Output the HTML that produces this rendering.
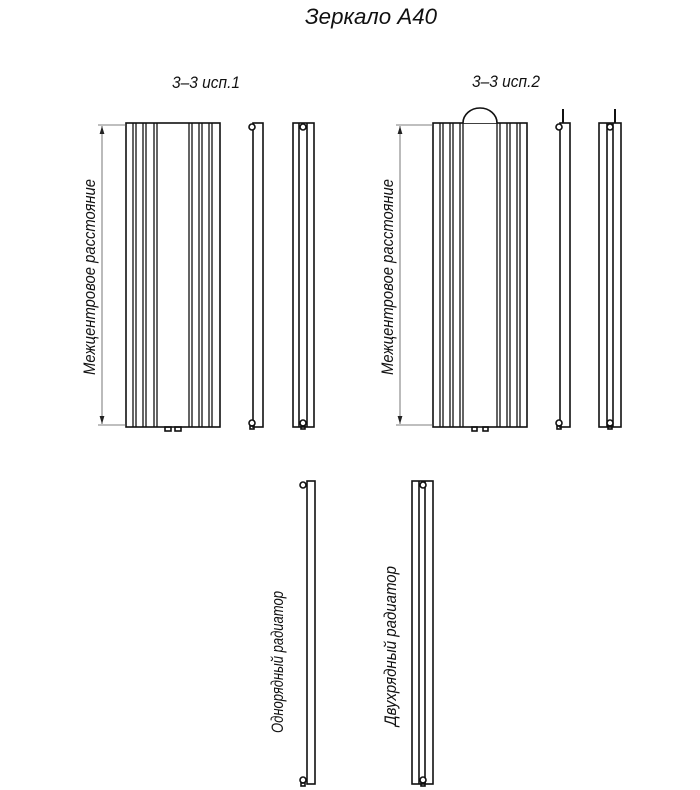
<!DOCTYPE html>
<html><head><meta charset="utf-8"><style>
html,body{margin:0;padding:0;background:#fff;}
svg{display:block;}
text{font-family:"Liberation Sans",sans-serif;font-style:italic;fill:#111;}
</style></head><body>
<svg width="700" height="790" viewBox="0 0 700 790" xmlns="http://www.w3.org/2000/svg">
<defs>
<marker id="ar" viewBox="0 0 10 10" refX="10" refY="5" markerWidth="8" markerHeight="10" orient="auto" markerUnits="userSpaceOnUse"><path d="M0,2 L10,5 L0,8 z" fill="#222"/></marker>
</defs>
<text x="305" y="24" font-size="22" textLength="132" lengthAdjust="spacingAndGlyphs">Зеркало А40</text>
<text x="172" y="88" font-size="17" textLength="68" lengthAdjust="spacingAndGlyphs">3–3 исп.1</text>
<text x="472" y="87" font-size="17" textLength="68" lengthAdjust="spacingAndGlyphs">3–3 исп.2</text>

<g stroke="#111" fill="none" stroke-width="1.6">
<rect x="126" y="123" width="94" height="304"/>
<g stroke-width="1.3">
<line x1="133" y1="123" x2="133" y2="427"/><line x1="136" y1="123" x2="136" y2="427"/>
<line x1="143" y1="123" x2="143" y2="427"/><line x1="146" y1="123" x2="146" y2="427"/>
<line x1="154" y1="123" x2="154" y2="427"/><line x1="157" y1="123" x2="157" y2="427"/>
<line x1="189" y1="123" x2="189" y2="427"/><line x1="192" y1="123" x2="192" y2="427"/>
<line x1="199" y1="123" x2="199" y2="427"/><line x1="202" y1="123" x2="202" y2="427"/>
<line x1="209" y1="123" x2="209" y2="427"/><line x1="212" y1="123" x2="212" y2="427"/>
</g>
<rect x="165" y="427" width="6" height="4"/><rect x="175" y="427" width="6" height="4"/>
<rect x="253" y="123" width="10" height="304"/>
<circle cx="252" cy="127" r="3" fill="#fff"/><circle cx="252" cy="423" r="3" fill="#fff"/>
<rect x="250" y="426" width="4" height="3"/>
<rect x="293" y="123" width="21" height="304"/>
<line x1="299" y1="123" x2="299" y2="427"/><line x1="307" y1="123" x2="307" y2="427"/>
<circle cx="303" cy="127" r="3" fill="#fff"/><circle cx="303" cy="423" r="3" fill="#fff"/>
<rect x="301" y="426" width="4" height="3"/>

<rect x="433" y="123" width="94" height="304"/>
<path d="M463,123 A17,15 0 0 1 497,123" fill="#fff"/>
<g stroke-width="1.3">
<line x1="440" y1="123" x2="440" y2="427"/><line x1="443" y1="123" x2="443" y2="427"/>
<line x1="450" y1="123" x2="450" y2="427"/><line x1="453" y1="123" x2="453" y2="427"/>
<line x1="460" y1="123" x2="460" y2="427"/><line x1="463" y1="123" x2="463" y2="427"/>
<line x1="497" y1="123" x2="497" y2="427"/><line x1="500" y1="123" x2="500" y2="427"/>
<line x1="507" y1="123" x2="507" y2="427"/><line x1="510" y1="123" x2="510" y2="427"/>
<line x1="517" y1="123" x2="517" y2="427"/><line x1="520" y1="123" x2="520" y2="427"/>
</g>
<rect x="472" y="427" width="5" height="4"/><rect x="483" y="427" width="5" height="4"/>
<rect x="560" y="123" width="10" height="304"/>
<line x1="563" y1="109" x2="563" y2="123" stroke-width="2"/>
<circle cx="559" cy="127" r="3" fill="#fff"/><circle cx="559" cy="423" r="3" fill="#fff"/>
<rect x="557" y="426" width="4" height="3"/>
<rect x="599" y="123" width="22" height="304"/>
<line x1="607" y1="123" x2="607" y2="427"/><line x1="613" y1="123" x2="613" y2="427"/>
<line x1="615" y1="109" x2="615" y2="123" stroke-width="2"/>
<circle cx="610" cy="127" r="3" fill="#fff"/><circle cx="610" cy="423" r="3" fill="#fff"/>
<rect x="608" y="426" width="4" height="3"/>

<rect x="307" y="481" width="8" height="303"/>
<circle cx="303" cy="485" r="3" fill="#fff"/><circle cx="303" cy="780" r="3" fill="#fff"/>
<rect x="301" y="783" width="4" height="3"/>
<rect x="412" y="481" width="21" height="303"/>
<line x1="419" y1="481" x2="419" y2="784"/><line x1="425" y1="481" x2="425" y2="784"/>
<circle cx="423" cy="485" r="3" fill="#fff"/><circle cx="423" cy="780" r="3" fill="#fff"/>
<rect x="421" y="783" width="4" height="3"/>
</g>

<g stroke="#555" stroke-width="0.8" fill="none">
<line x1="98" y1="125" x2="126" y2="125"/><line x1="98" y1="425" x2="126" y2="425"/>
<line x1="102" y1="275" x2="102" y2="126" marker-end="url(#ar)"/>
<line x1="102" y1="275" x2="102" y2="424" marker-end="url(#ar)"/>
<line x1="396" y1="125" x2="433" y2="125"/><line x1="396" y1="425" x2="433" y2="425"/>
<line x1="400" y1="275" x2="400" y2="126" marker-end="url(#ar)"/>
<line x1="400" y1="275" x2="400" y2="424" marker-end="url(#ar)"/>
</g>

<text transform="translate(95,375) rotate(-90)" font-size="17" textLength="196" lengthAdjust="spacingAndGlyphs">Межцентровое расстояние</text>
<text transform="translate(393,375) rotate(-90)" font-size="17" textLength="196" lengthAdjust="spacingAndGlyphs">Межцентровое расстояние</text>
<text transform="translate(283,733) rotate(-90)" font-size="17" textLength="142" lengthAdjust="spacingAndGlyphs">Однорядный радиатор</text>
<text transform="translate(396,726) rotate(-90)" font-size="17" textLength="160" lengthAdjust="spacingAndGlyphs">Двухрядный радиатор</text>
</svg>
</body></html>
